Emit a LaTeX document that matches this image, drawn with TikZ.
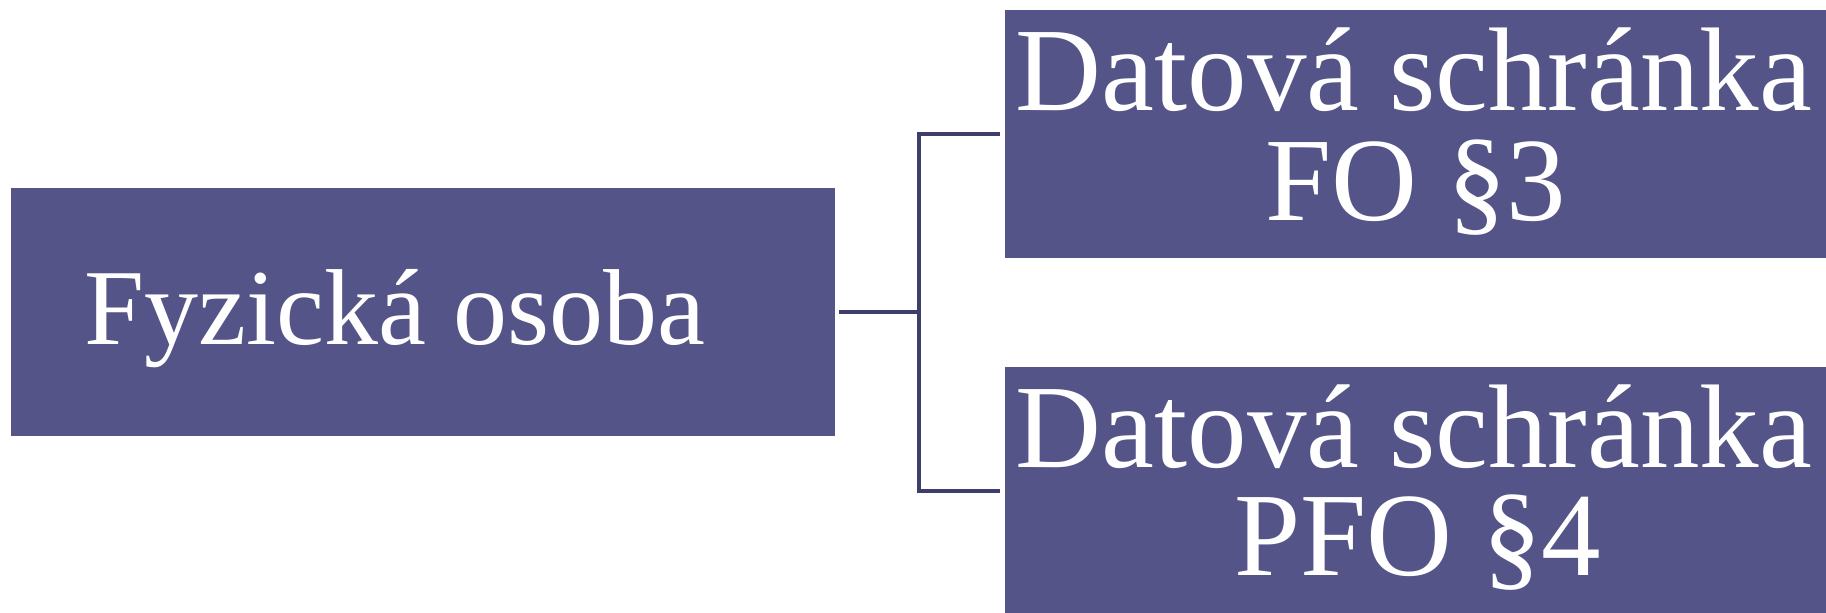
\documentclass[tikz,border=0pt]{standalone}
\usepackage{fontspec}
\setmainfont{Liberation Serif}
\definecolor{boxfill}{RGB}{84,84,137}
\definecolor{linecol}{RGB}{62,62,106}
\begin{document}
\begin{tikzpicture}[x=1pt,y=-1pt,
  box/.style={fill=boxfill,draw=none,inner sep=0pt,minimum width=821pt,minimum height=248pt},
  label/.style={text=white,inner sep=0pt,align=center},
  conn/.style={draw=linecol,line width=3.6pt,line join=miter}]
\useasboundingbox (0,0) rectangle (1826,613);
\node[box,minimum width=824pt] (L) at (423,312) {};
\node[box] (T) at (1415.5,134) {};
\node[box] (B) at (1415.5,491) {};
\node[label,anchor=base,font=\fontsize{108}{108}\selectfont] (Lt) at (395,344) {Fyzická osoba};
\node[label,anchor=base,font=\fontsize{119}{109}\selectfont] (Tt1) at (1414,110) {Datová schránka};
\node[label,anchor=base,font=\fontsize{119}{109}\selectfont] (Tt2) at (1416,220) {FO §3};
\node[label,anchor=base,font=\fontsize{119}{109}\selectfont] (Bt1) at (1414,467) {Datová schránka};
\node[label,anchor=base,font=\fontsize{119}{109}\selectfont] (Bt2) at (1418,575) {PFO §4};
\coordinate (j) at (919,312);
\draw[conn] ([xshift=4pt]L.east) -- (j);
\draw[conn] ([xshift=-5pt]T.west) -| (j) |- ([xshift=-5pt]B.west);
\end{tikzpicture}
\end{document}
